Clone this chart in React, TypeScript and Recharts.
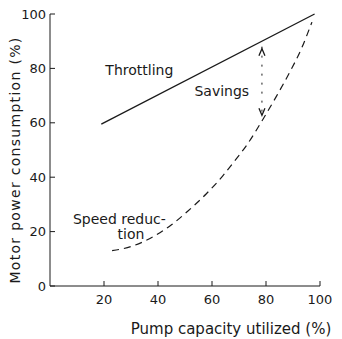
import {
  ComposedChart,
  Line,
  XAxis,
  YAxis,
  ReferenceDot,
} from "recharts";

// curves (x = pump capacity %, y = motor power %)
const throttlingX = [19, 98];
const throttlingY = [59.5, 100];

const speedX = [23, 30, 38, 45, 51, 58, 64, 68, 73, 79, 84, 89, 93, 97];
const speedY = [13, 14.5, 18, 22.5, 27.5, 34, 40.5, 45.5, 52, 61.5, 70, 79, 87, 97];

const savingsX = [78.5, 78.5];
const savingsY = [88, 62];

const xTicks = [20, 40, 60, 80, 100];
const yTicks = [0, 20, 40, 60, 80, 100];

const notes = [
  { x: 20.5, y: 79.5, text: "Throttling" },
  { x: 53.5, y: 71.5, text: "Savings" },
  { x: 8.5, y: 24.5, text: "Speed reduc-" },
  { x: 25, y: 19, text: "tion" },
];

const ink = "#1a1a1a";
const font = "DejaVu Sans";

const zip = (xs: number[], ys: number[]) => xs.map((x, i) => ({ x, y: ys[i] }));

// arrowheads for the savings marker
const Arrow = (props: any) => {
  const { cx, cy, index } = props;
  if (cx == null || cy == null) return <g key={index} />;
  const d = index === 0 ? 1 : -1; // first points up, second points down
  const tip = cy + d * 2;
  const base = tip + d * 7;
  return (
    <path
      key={index}
      d={`M${cx - 3},${base} L${cx},${tip} L${cx + 3},${base}`}
      fill="none"
      stroke={ink}
      strokeWidth={1.3}
    />
  );
};

export default function App() {
  return (
    <div style={{ position: "absolute", left: 0, top: 0, background: "#fff" }}>
      <ComposedChart
        width={342}
        height={339}
        margin={{ top: 14, right: 22, left: 10, bottom: 3 }}
      >
        <XAxis
          type="number"
          dataKey="x"
          domain={[0, 100]}
          ticks={xTicks}
          allowDuplicatedCategory={false}
          height={50}
          tickSize={-5}
          tickMargin={14}
          stroke={ink}
          tick={{ fill: ink, fontSize: 13, fontFamily: font }}
          label={{
            value: "Pump capacity utilized (%)",
            position: "insideBottom",
            offset: 2,
            fill: ink,
            fontSize: 15,
            fontFamily: font,
            dx: 46,
          }}
        />
        <YAxis
          type="number"
          dataKey="y"
          domain={[0, 100]}
          ticks={yTicks}
          width={40}
          tickSize={-5}
          tickMargin={9}
          stroke={ink}
          tick={{ fill: ink, fontSize: 13, fontFamily: font }}
          label={{
            value: "Motor power consumption (%)",
            angle: -90,
            position: "center",
            dx: -15,
            dy: 10,
            fill: ink,
            fontSize: 14,
            letterSpacing: 1.3,
            fontFamily: font,
          }}
        />
        <Line
          data={zip(throttlingX, throttlingY)}
          dataKey="y"
          type="linear"
          stroke={ink}
          strokeWidth={1.3}
          dot={false}
          isAnimationActive={false}
        />
        <Line
          data={zip(speedX, speedY)}
          dataKey="y"
          type="monotone"
          stroke={ink}
          strokeWidth={1.2}
          strokeDasharray="7 5"
          dot={false}
          isAnimationActive={false}
        />
        <Line
          data={zip(savingsX, savingsY)}
          dataKey="y"
          type="linear"
          stroke={ink}
          strokeWidth={1}
          strokeDasharray="2 7"
          dot={<Arrow />}
          isAnimationActive={false}
        />
        {notes.map((n) => (
          <ReferenceDot
            key={n.text}
            x={n.x}
            y={n.y}
            r={0}
            stroke="none"
            label={{
              value: n.text,
              position: "right",
              offset: 0,
              fill: ink,
              fontSize: 14,
              fontFamily: font,
            }}
          />
        ))}
      </ComposedChart>
    </div>
  );
}
